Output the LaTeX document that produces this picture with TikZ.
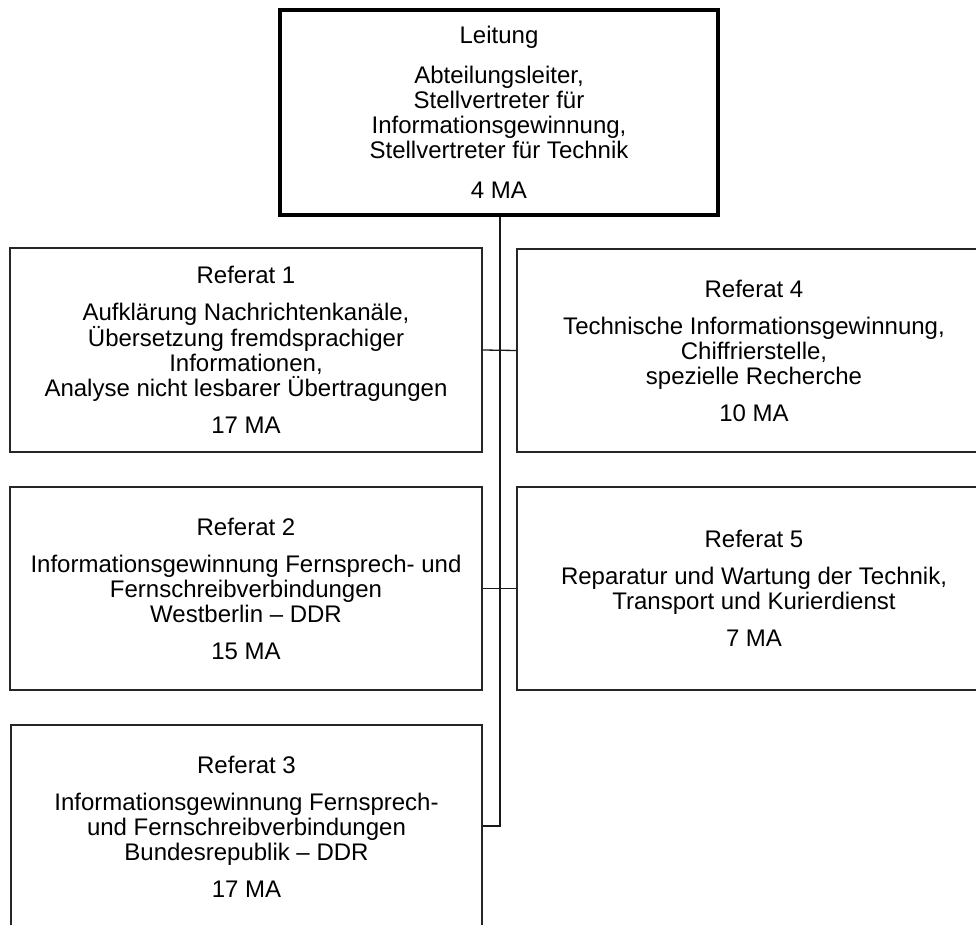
\documentclass[tikz,border=0pt]{standalone}
\usepackage{fontspec}
\setmainfont{Liberation Sans}
\begin{document}
\begin{tikzpicture}[x=1pt,y=-1pt,
  unitbox/.style={draw=black!85, line width=1.3pt, rectangle, inner sep=0pt},
  headbox/.style={draw=black, line width=3.6pt, rectangle, inner sep=0pt},
  boxtext/.style={align=center, inner sep=0pt,
    font=\fontsize{24}{25}\selectfont},
  link/.style={draw=black!90, line width=1.3pt}]
\useasboundingbox (0,0) rectangle (976,925);

% head of the department
\node[headbox, minimum width=438pt, minimum height=205pt] (lead) at (499,112.5) {};
\node[boxtext] (leadt) at (lead.center)
  {Leitung\\[15pt]Abteilungsleiter,\\Stellvertreter für\\Informationsgewinnung,\\Stellvertreter für Technik\\[15pt]4 MA};

% left column
\node[unitbox, minimum width=472pt, minimum height=204pt] (r1) at (246,350) {};
\node[boxtext] (r1t) at (r1.center)
  {Referat 1\\[12pt]Aufklärung Nachrichtenkanäle,\\Übersetzung fremdsprachiger\\Informationen,\\Analyse nicht lesbarer Übertragungen\\[12pt]17 MA};

\node[unitbox, minimum width=472pt, minimum height=203pt] (r2) at (246,588.5) {};
\node[boxtext] (r2t) at (r2.center)
  {Referat 2\\[12pt]Informationsgewinnung Fernsprech- und\\Fernschreibverbindungen\\Westberlin -- DDR\\[12pt]15 MA};

\node[unitbox, minimum width=471pt, minimum height=224pt] (r3) at (246.5,837) {};
\node[boxtext] (r3t) at ([yshift=10pt]r3.center)
  {Referat 3\\[12pt]Informationsgewinnung Fernsprech-\\und Fernschreibverbindungen\\Bundesrepublik -- DDR\\[12pt]17 MA};

% right column
\node[unitbox, minimum width=474pt, minimum height=203pt] (r4) at (754,350.5) {};
\node[boxtext] (r4t) at (r4.center)
  {Referat 4\\[12pt]Technische Informationsgewinnung,\\Chiffrierstelle,\\spezielle Recherche\\[12pt]10 MA};

\node[unitbox, minimum width=474pt, minimum height=203pt] (r5) at (754,588.5) {};
\node[boxtext] (r5t) at (r5.center)
  {Referat 5\\[12pt]Reparatur und Wartung der Technik,\\Transport und Kurierdienst\\[12pt]7 MA};

% connectors
\coordinate (spine) at (500,826);
\draw[link] (lead.south -| spine) -- (spine) -- (spine -| r3.east);
\draw[link] (r1.east) -- (r4.west);
\draw[link] (r2.east) -- (r5.west);
\end{tikzpicture}
\end{document}
